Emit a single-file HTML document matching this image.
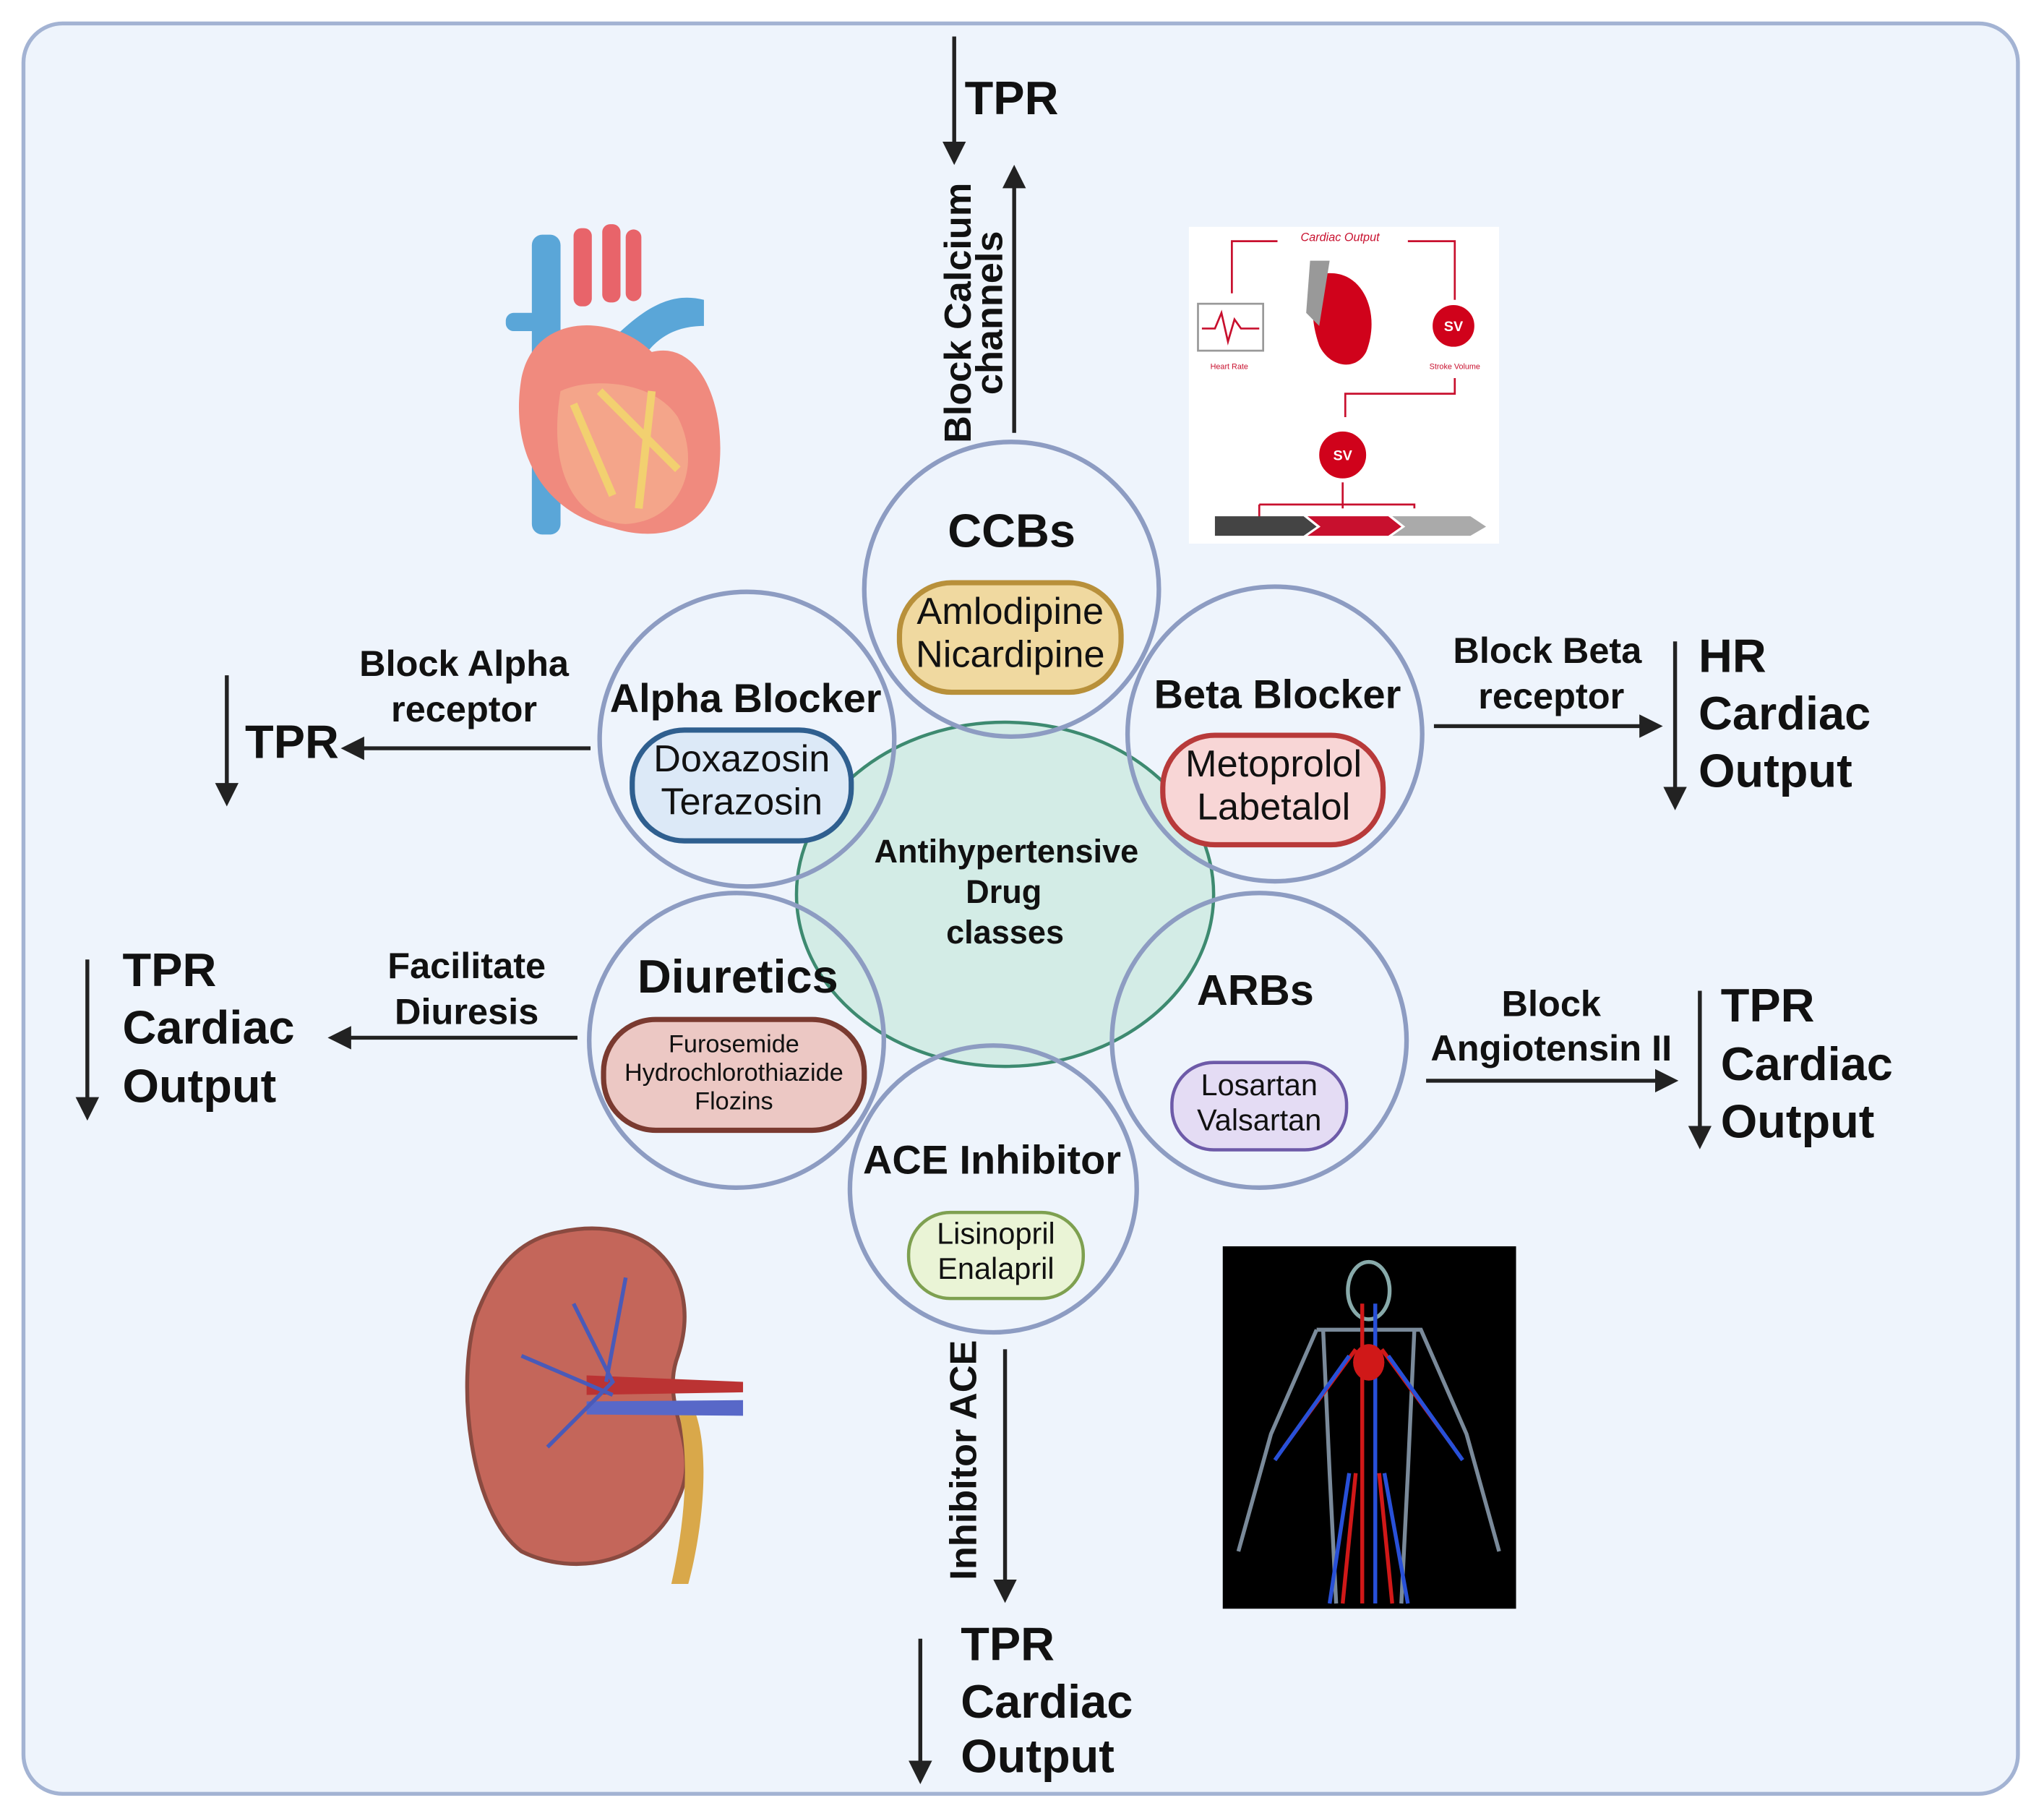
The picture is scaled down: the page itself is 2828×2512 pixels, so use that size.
<!DOCTYPE html>
<html><head><meta charset="utf-8"><style>
html,body{margin:0;padding:0;background:#fff}
svg{display:block}
text{font-family:"Liberation Sans",sans-serif;font-weight:bold;fill:#111}
.n{font-weight:normal}
</style></head><body>
<svg width="2828" height="2512" viewBox="0 0 1568 1393" preserveAspectRatio="none" xmlns="http://www.w3.org/2000/svg">
<defs>
<marker id="ah" viewBox="0 0 10 10" refX="8" refY="5" markerWidth="6" markerHeight="6" orient="auto-start-reverse">
<path d="M0,0 L10,5 L0,10 z" fill="#222"/></marker>
</defs>
<rect x="18" y="18" width="1530" height="1358" rx="30" fill="#eef4fc" stroke="#a3b3d3" stroke-width="3"/>

<ellipse cx="771" cy="686" rx="160" ry="132" fill="#d3ece6" stroke="#3d8a70" stroke-width="2.5"/>
<g fill="none" stroke="#8d9cc2" stroke-width="3.5">
<circle cx="776" cy="452" r="113"/>
<circle cx="573" cy="567" r="113"/>
<circle cx="978" cy="563" r="113"/>
<circle cx="565" cy="798" r="113"/>
<circle cx="966" cy="798" r="113"/>
<circle cx="762" cy="912" r="110"/>
</g>

<rect x="690" y="447" width="170" height="84" rx="40" fill="#f0d9a0" stroke="#b8903a" stroke-width="4"/>
<rect x="485" y="560" width="168" height="85" rx="40" fill="#dce9f7" stroke="#2f5f8f" stroke-width="4"/>
<rect x="892" y="564" width="169" height="84" rx="40" fill="#f8d6d6" stroke="#b83a3a" stroke-width="4"/>
<rect x="463" y="782" width="200" height="85" rx="40" fill="#ecc8c4" stroke="#7a3a30" stroke-width="4"/>
<rect x="899" y="815" width="134" height="67" rx="32" fill="#e4dcf4" stroke="#6d5aa8" stroke-width="2.5"/>
<rect x="697" y="930" width="134" height="66" rx="32" fill="#eaf4d6" stroke="#7ea050" stroke-width="2.5"/>

<g text-anchor="middle" dominant-baseline="middle">
<text x="776" y="410" font-size="36">CCBs</text>
<text x="572" y="538" font-size="31">Alpha Blocker</text>
<text x="980" y="535" font-size="31">Beta Blocker</text>
<text x="566" y="752" font-size="36">Diuretics</text>
<text x="963" y="762" font-size="33">ARBs</text>
<text x="761" y="892" font-size="31">ACE Inhibitor</text>
<text x="772" y="655" font-size="25">Antihypertensive</text>
<text x="770" y="686" font-size="25">Drug</text>
<text x="771" y="717" font-size="25">classes</text>

<text class="n" x="775" y="471" font-size="29">Amlodipine</text>
<text class="n" x="775" y="504" font-size="29">Nicardipine</text>
<text class="n" x="569" y="584" font-size="29">Doxazosin</text>
<text class="n" x="569" y="617" font-size="29">Terazosin</text>
<text class="n" x="977" y="588" font-size="29">Metoprolol</text>
<text class="n" x="977" y="621" font-size="29">Labetalol</text>
<text class="n" x="563" y="802" font-size="19">Furosemide</text>
<text class="n" x="563" y="824" font-size="19">Hydrochlorothiazide</text>
<text class="n" x="563" y="846" font-size="19">Flozins</text>
<text class="n" x="966" y="834" font-size="23">Losartan</text>
<text class="n" x="966" y="861" font-size="23">Valsartan</text>
<text class="n" x="764" y="948" font-size="23">Lisinopril</text>
<text class="n" x="764" y="975" font-size="23">Enalapril</text>

<text x="356" y="511" font-size="28">Block Alpha</text>
<text x="356" y="546" font-size="28">receptor</text>
<text x="1187" y="501" font-size="28">Block Beta</text>
<text x="1190" y="536" font-size="28">receptor</text>
<text x="358" y="743" font-size="28">Facilitate</text>
<text x="358" y="778" font-size="28">Diuresis</text>
<text x="1190" y="772" font-size="28">Block</text>
<text x="1190" y="806" font-size="28">Angiotensin II</text>
<text transform="translate(737,240) rotate(-90)" font-size="29">Block Calcium</text>
<text transform="translate(761,240) rotate(-90)" font-size="29">channels</text>
<text transform="translate(741,1120) rotate(-90)" font-size="29">Inhibitor ACE</text>
</g>

<g dominant-baseline="middle" font-size="36">
<text x="740" y="78">TPR</text>
<text x="188" y="572">TPR</text>
<text x="1303" y="506">HR</text><text x="1303" y="550">Cardiac</text><text x="1303" y="594">Output</text>
<text x="94" y="747">TPR</text><text x="94" y="791">Cardiac</text><text x="94" y="836">Output</text>
<text x="1320" y="774">TPR</text><text x="1320" y="819">Cardiac</text><text x="1320" y="863">Output</text>
<text x="737" y="1264">TPR</text><text x="737" y="1308">Cardiac</text><text x="737" y="1350">Output</text>
</g>

<g stroke="#222" stroke-width="3" marker-end="url(#ah)">
<line x1="732" y1="28" x2="732" y2="123"/>
<line x1="778" y1="332" x2="778" y2="130"/>
<line x1="453" y1="574" x2="265" y2="574"/>
<line x1="174" y1="518" x2="174" y2="615"/>
<line x1="1100" y1="557" x2="1272" y2="557"/>
<line x1="1285" y1="492" x2="1285" y2="618"/>
<line x1="443" y1="796" x2="255" y2="796"/>
<line x1="67" y1="736" x2="67" y2="856"/>
<line x1="1094" y1="829" x2="1284" y2="829"/>
<line x1="1304" y1="760" x2="1304" y2="878"/>
<line x1="771" y1="1035" x2="771" y2="1226"/>
<line x1="706" y1="1257" x2="706" y2="1365"/>
</g>

<g>
<rect x="408" y="180" width="22" height="230" rx="8" fill="#5aa6d8"/>
<rect x="440" y="175" width="14" height="60" rx="6" fill="#e8646a"/>
<rect x="462" y="172" width="14" height="60" rx="6" fill="#e8646a"/>
<rect x="480" y="176" width="12" height="55" rx="6" fill="#e8646a"/>
<path d="M470 260 C500 230 520 225 540 230 L540 250 C515 250 500 262 490 280 Z" fill="#5aa6d8"/>
<rect x="388" y="240" width="40" height="14" rx="6" fill="#5aa6d8"/>
<path d="M400 290 C410 240 470 240 500 270 C540 260 560 320 550 370 C540 410 500 415 470 405 C420 395 390 350 400 290 Z" fill="#f08a7e"/>
<path d="M430 300 C450 290 500 290 520 320 C540 360 520 400 480 402 C440 400 420 360 430 300Z" fill="#f4a58a"/>
<path d="M440 310 L470 380 M500 300 L490 390 M460 300 L520 360" stroke="#f2d070" stroke-width="6" fill="none"/>
</g>

<rect x="912" y="174" width="238" height="243" fill="#ffffff"/>
<g fill="none" stroke="#c8102e" stroke-width="1.5">
<path d="M945 225 V185 H980 M1080 185 H1116 V230"/>
<rect x="919" y="233" width="50" height="36" stroke="#999"/>
<path d="M922 252 H932 L937 240 L942 262 L947 245 L952 252 H966"/>
<path d="M1116 290 V302 H1032 V320"/>
<path d="M1030 370 V385 M966 387 V408 M1030 385 V390 M1085 387 V390 M966 387 H1085 V390"/>
</g>
<text x="1028" y="185" font-size="9" class="n" text-anchor="middle" font-style="italic" style="fill:#c8102e">Cardiac Output</text>
<path d="M1015 210 C1045 205 1060 240 1048 270 C1040 285 1020 282 1012 265 C1005 245 1005 225 1015 210Z" fill="#d0021b"/>
<path d="M1005 200 L1020 200 L1012 250 L1002 240Z" fill="#999"/>
<circle cx="1115" cy="250" r="17" fill="#d0021b" stroke="#fff" stroke-width="2"/>
<circle cx="1030" cy="349" r="19" fill="#d0021b" stroke="#fff" stroke-width="2"/>
<text x="1115" y="254" font-size="11" text-anchor="middle" style="fill:#fff">SV</text>
<text x="1030" y="353" font-size="11" text-anchor="middle" style="fill:#fff">SV</text>
<text x="943" y="283" font-size="6" class="n" text-anchor="middle" style="fill:#c8102e">Heart Rate</text>
<text x="1116" y="283" font-size="6" class="n" text-anchor="middle" style="fill:#c8102e">Stroke Volume</text>
<path d="M932 396 H1000 L1010 404 L1000 411 H932Z" fill="#444"/>
<path d="M1003 396 H1065 L1075 404 L1065 411 H1003 L1013 404Z" fill="#c8102e"/>
<path d="M1068 396 H1128 L1140 404 L1128 411 H1068 L1078 404Z" fill="#aaa"/>

<g>
<path d="M430 945 C500 930 540 980 520 1040 C505 1080 540 1110 520 1150 C500 1200 440 1210 400 1190 C360 1160 350 1060 365 1010 C380 970 400 950 430 945Z" fill="#c4665a" stroke="#8a4a40" stroke-width="3"/>
<path d="M520 1080 C530 1120 525 1170 515 1215 L528 1215 C540 1170 545 1110 532 1080Z" fill="#d9a84a"/>
<path d="M450 1055 L570 1060 L570 1068 L450 1070Z" fill="#b33"/>
<path d="M450 1075 L570 1074 L570 1086 L450 1085Z" fill="#5868c8"/>
<path d="M440 1000 L470 1060 L420 1110 M400 1040 L470 1070 M480 980 L465 1060" stroke="#4a5ab8" stroke-width="3" fill="none"/>
</g>

<rect x="938" y="956" width="225" height="278" fill="#000"/>
<g fill="none" stroke-width="3">
<ellipse cx="1050" cy="990" rx="16" ry="22" stroke="#8aa"/>
<path d="M1010 1020 H1090 L1125 1100 L1150 1190 M1010 1020 L975 1100 L950 1190" stroke="#7a8a9a"/>
<path d="M1015 1020 L1020 1130 L1025 1230 M1085 1020 L1080 1130 L1075 1230" stroke="#7a8a9a"/>
<path d="M1045 1000 V1230 M1040 1130 L1030 1230 M1058 1130 L1068 1230 M1040 1035 L985 1110 M1060 1035 L1115 1110" stroke="#d01818"/>
<path d="M1055 1000 V1230 M1035 1130 L1020 1230 M1062 1130 L1080 1230 M1035 1040 L978 1120 M1065 1040 L1122 1120" stroke="#2850d8"/>
</g>
<ellipse cx="1050" cy="1045" rx="12" ry="14" fill="#d01818"/>
</svg>
</body></html>
